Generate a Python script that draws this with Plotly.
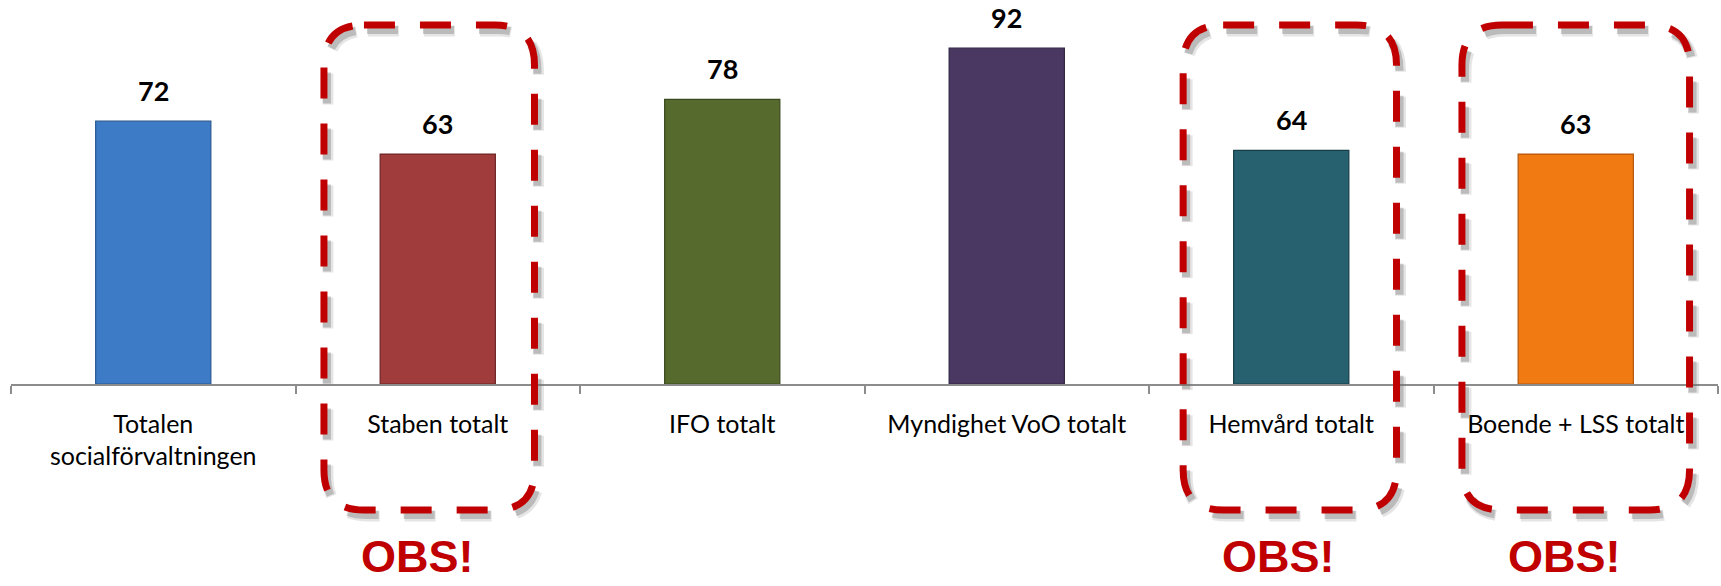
import plotly.graph_objects as go

# Categories and values
categories = [
    "Totalen<br>socialförvaltningen",
    "Staben totalt",
    "IFO totalt",
    "Myndighet VoO totalt",
    "Hemvård totalt",
    "Boende + LSS totalt",
]
values = [72, 63, 78, 92, 64, 63]
bar_colors = ["#3D7BC7", "#A13C3C", "#566A2D", "#4A3862", "#27606F", "#F27A12"]
edge_colors = ["#2A5890", "#6E2525", "#3B4A1E", "#2F2340", "#163E49", "#B3560A"]

# Highlighted categories (index) with box extents (x0, x1 in axis units)
flagged = [1, 4, 5]
box_x = [(0.60, 1.34), (3.62, 4.37), (4.60, 5.40)]
obs_text = "OBS!"

W, H = 1721, 586
M_L, M_R, M_T, M_B = 11, 3, 19, 202
plot_w = W - M_L - M_R
plot_h = H - M_T - M_B
x_range = (-0.5, len(categories) - 0.5)
y_range = (0, 100)

px_per_x = plot_w / (x_range[1] - x_range[0])


def py_to_paper(py):
    return (H - M_B - py) / plot_h


fig = go.Figure()
fig.add_trace(
    go.Bar(
        x=list(range(len(categories))),
        y=values,
        width=0.405,
        marker=dict(color=bar_colors, line=dict(color=edge_colors, width=1.2)),
        hoverinfo="skip",
    )
)

# value labels above the bars
annotations = []
for i, v in enumerate(values):
    annotations.append(
        dict(
            x=i, y=v, xref="x", yref="y",
            text=f"<b>{v}</b>", showarrow=False,
            yanchor="middle", yshift=31,
            font=dict(family="Lato", size=27, color="#000000"),
        )
    )


def rounded_path(x0, x1, y0, y1, rx, ry):
    # closed rounded rectangle; x in axis units, y in paper units (y1 top)
    return (
        f"M {x0 + rx},{y1} L {x1 - rx},{y1} Q {x1},{y1} {x1},{y1 - ry} "
        f"L {x1},{y0 + ry} Q {x1},{y0} {x1 - rx},{y0} "
        f"L {x0 + rx},{y0} Q {x0},{y0} {x0},{y0 + ry} "
        f"L {x0},{y1 - ry} Q {x0},{y1} {x0 + rx},{y1} Z"
    )


shapes = []
box_top = py_to_paper(25)
box_bot = py_to_paper(510)
r_px = 40
rx = r_px / px_per_x
ry = r_px / plot_h
dash = "31px,25px"
for (bx0, bx1) in box_x:
    # soft grey shadow, offset right/down
    for width, alpha, dx, dy in [(11, 0.18, 4, 6), (8, 0.35, 3, 5)]:
        sx = dx / px_per_x
        sy = dy / plot_h
        shapes.append(
            dict(
                type="path", xref="x", yref="paper",
                path=rounded_path(bx0 + sx, bx1 + sx, box_bot - sy, box_top - sy, rx, ry),
                line=dict(color=f"rgba(110,110,110,{alpha})", width=width, dash=dash),
                layer="above",
            )
        )
    shapes.append(
        dict(
            type="path", xref="x", yref="paper",
            path=rounded_path(bx0, bx1, box_bot, box_top, rx, ry),
            line=dict(color="#C00000", width=7, dash=dash),
            layer="above",
        )
    )
    annotations.append(
        dict(
            x=(bx0 + bx1) / 2 - 0.04, y=py_to_paper(556), xref="x", yref="paper",
            text=f"<b>{obs_text}</b>", showarrow=False,
            xanchor="center", yanchor="middle",
            font=dict(family="Liberation Sans", size=45, color="#C00000"),
        )
    )

fig.update_layout(
    width=W, height=H,
    margin=dict(l=M_L, r=M_R, t=M_T, b=M_B, pad=0),
    paper_bgcolor="white", plot_bgcolor="white",
    showlegend=False,
    annotations=annotations,
    shapes=shapes,
    xaxis=dict(
        range=list(x_range),
        tickmode="array",
        tickvals=list(range(len(categories))),
        ticktext=categories,
        ticks="",
        showline=True, linecolor="#8C8C8C", linewidth=1.5,
        showgrid=False, zeroline=False,
        ticklabelstandoff=17,
        tickfont=dict(family="Lato", size=25, color="#000000"),
        minor=dict(
            tickmode="array",
            tickvals=[i - 0.5 for i in range(len(categories) + 1)],
            ticks="outside", ticklen=8, tickwidth=1.5, tickcolor="#8C8C8C",
            showgrid=False,
        ),
    ),
    yaxis=dict(range=list(y_range), visible=False),
)

fig.write_html("out.html")
